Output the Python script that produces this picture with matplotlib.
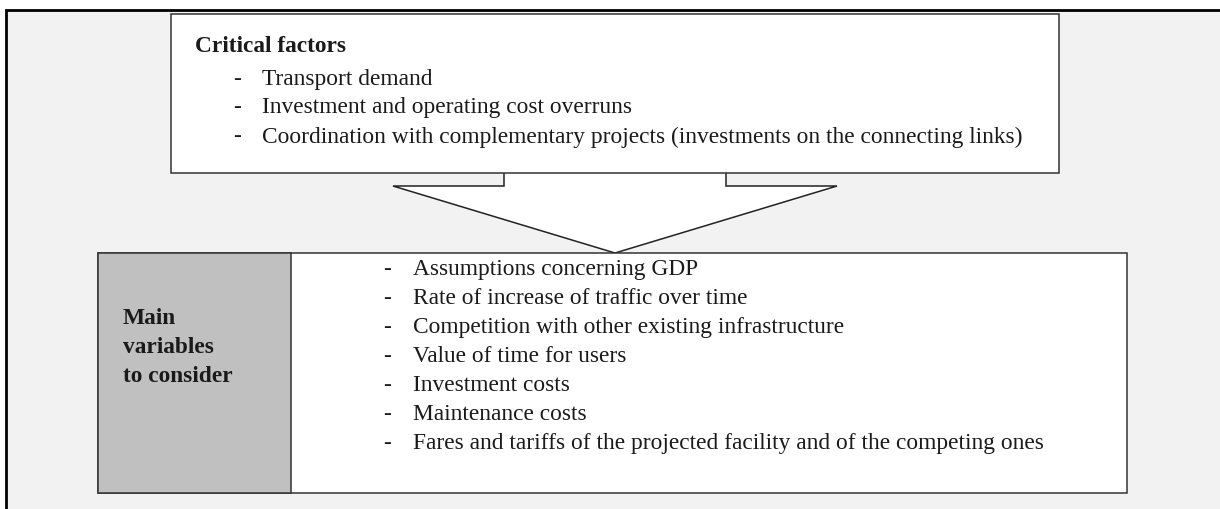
import matplotlib
matplotlib.use("Agg")
import matplotlib.pyplot as plt
from matplotlib.patches import Rectangle, Polygon

# text content
title_top = "Critical factors"
critical_factors = [
    "Transport demand",
    "Investment and operating cost overruns",
    "Coordination with complementary projects (investments on the connecting links)",
]
side_label = ["Main", "variables", "to consider"]
main_variables = [
    "Assumptions concerning GDP",
    "Rate of increase of traffic over time",
    "Competition with other existing infrastructure",
    "Value of time for users",
    "Investment costs",
    "Maintenance costs",
    "Fares and tariffs of the projected facility and of the competing ones",
]

W, H = 1220, 510
FS = 16.8
TXT = '#1a1a1a'
plt.rcParams['font.family'] = ['Liberation Serif', 'DejaVu Serif']

fig = plt.figure(figsize=(W / 100, H / 100), dpi=100)
ax = fig.add_axes([0, 0, 1, 1])
ax.set_xlim(0, W)
ax.set_ylim(H, 0)
ax.axis('off')

# outer frame (only top and left edges are visible)
ax.add_patch(Rectangle((6, 11), W + 20, H + 20, facecolor='#f2f2f2',
                       edgecolor='black', lw=2, zorder=0))

# arrow head (shaft hidden behind the top box)
arrow = Polygon([(504, 150), (504, 187), (393, 187), (615, 254),
                 (837, 187), (726, 187), (726, 150)],
                closed=True, facecolor='white', edgecolor='#222222', lw=1.1, zorder=1)
ax.add_patch(arrow)

# top box
ax.add_patch(Rectangle((171, 15), 1059 - 171, 174 - 15, facecolor='white',
                       edgecolor='#333333', lw=1.1, zorder=2))
ax.text(195, 47, title_top, fontsize=FS, fontweight='bold', color=TXT,
        va='center', ha='left', zorder=3)
for i, item in enumerate(critical_factors):
    y = 79 + 29 * i
    ax.text(233, y, "-", fontsize=FS, color=TXT, va='center', zorder=3)
    ax.text(262, y, item, fontsize=FS, color=TXT, va='center', zorder=3)

# bottom box
ax.add_patch(Rectangle((98, 254), 1127 - 98, 494 - 254, facecolor='white',
                       edgecolor='#333333', lw=1.1, zorder=2))
ax.add_patch(Rectangle((98, 254), 291 - 98, 494 - 254, facecolor='#c0c0c0',
                       edgecolor='#333333', lw=1.1, zorder=2))
for i, word in enumerate(side_label):
    ax.text(123, 319 + 29 * i, word, fontsize=FS, fontweight='bold',
            color=TXT, va='center', zorder=3)
for i, item in enumerate(main_variables):
    y = 270 + 29 * i
    ax.text(383, y, "-", fontsize=FS, color=TXT, va='center', zorder=3)
    ax.text(413, y, item, fontsize=FS, color=TXT, va='center', zorder=3)

fig.savefig("out.png", dpi=100, facecolor='white')
